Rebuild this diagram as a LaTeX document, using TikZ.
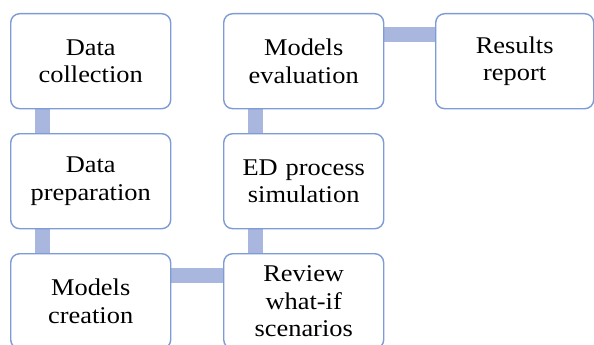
\documentclass[tikz,border=0pt]{standalone}
\usepackage{fontspec}
\setmainfont{Liberation Serif}[FakeStretch=1.1]
\usetikzlibrary{backgrounds}
\definecolor{boxline}{HTML}{7D9BD5}
\definecolor{connfill}{HTML}{A9B7DF}
\begin{document}
\begin{tikzpicture}[x=1pt,y=-1pt,
  stepbox/.style={draw=boxline, line width=1.4pt, rounded corners=9pt, fill=white,
    minimum width=160pt, minimum height=95pt, text width=150pt, align=center,
    inner sep=0pt, anchor=north west,
    font=\fontsize{24pt}{27.5pt}\selectfont},
  conn/.style={draw=connfill, line width=15pt}]
\useasboundingbox (0,0) rectangle (594,345);
\node[stepbox] (dc) at (10,13) {Data\\collection};
\node[stepbox] (dp) at (10,133) {Data\\preparation};
\node[stepbox] (mc) at (10,253) {Models\\creation};
\node[stepbox] (rv) at (223,253) {Review\\what-if\\scenarios};
\node[stepbox] (ed) at (223,133) {ED process\\simulation};
\node[stepbox] (me) at (223,13) {Models\\evaluation};
\node[stepbox, minimum width=158pt] (rr) at (435,13) {Results\\report};
\coordinate (lc) at (42.5,0);
\coordinate (rc) at (255,0);
\coordinate (hb) at (0,275);
\coordinate (ht) at (0,35);
\begin{scope}[on background layer]
\draw[conn] (dc.south -| lc) -- (dp.north -| lc);
\draw[conn] (dp.south -| lc) -- (mc.north -| lc);
\draw[conn] (mc.east |- hb) -- (rv.west |- hb);
\draw[conn] (rv.north -| rc) -- (ed.south -| rc);
\draw[conn] (ed.north -| rc) -- (me.south -| rc);
\draw[conn] (me.east |- ht) -- (rr.west |- ht);
\end{scope}
\end{tikzpicture}
\end{document}
